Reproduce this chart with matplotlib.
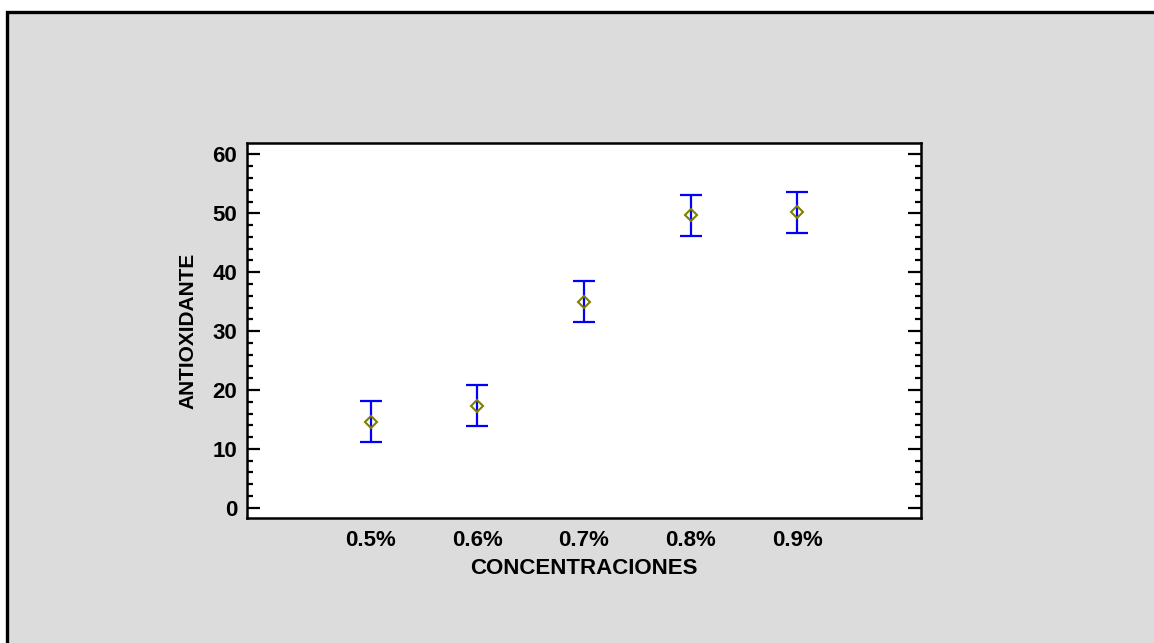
import matplotlib.pyplot as plt
from matplotlib.patches import Rectangle
from matplotlib.ticker import MultipleLocator

# means and interval half-widths per concentration
concentraciones = ['0.5%', '0.6%', '0.7%', '0.8%', '0.9%']
medias = [14.6, 17.3, 35.0, 49.7, 50.2]
semi_intervalo = [3.5, 3.5, 3.5, 3.5, 3.5]

plt.rcParams['font.family'] = 'Liberation Sans'
plt.rcParams['font.weight'] = 'bold'

fig = plt.figure(figsize=(11.54, 6.43), dpi=100, facecolor='white')

# gray panel behind the plot, running off the right and bottom edges
panel = Rectangle((7 / 1154, -0.05), 1.2, 1 - 12 / 643 + 0.05,
                  transform=fig.transFigure, facecolor='#dcdcdc',
                  edgecolor='black', linewidth=2.4, zorder=-10)
fig.add_artist(panel)

ax = fig.add_axes([247 / 1154, 1 - 518.3 / 643, 674 / 1154, 375 / 643])
ax.set_facecolor('white')

x = list(range(len(concentraciones)))
ax.errorbar(x, medias, yerr=semi_intervalo, fmt='none', ecolor='#0000ff',
            elinewidth=1.6, capsize=7.8, capthick=1.6, zorder=2)
ax.plot(x, medias, linestyle='none', marker='D', markersize=6.5,
        markerfacecolor='none', markeredgecolor='#808000',
        markeredgewidth=1.5, zorder=3)

ax.set_xlim(-1.164, 5.164)
ax.set_ylim(-1.8, 61.9)
ax.set_xticks(x)
ax.set_xticklabels(concentraciones)
ax.yaxis.set_major_locator(MultipleLocator(10))
ax.yaxis.set_minor_locator(MultipleLocator(2))

ax.tick_params(axis='x', length=0, pad=8.5, labelsize=16)
ax.tick_params(axis='y', which='major', direction='in', length=9.5,
               width=1.6, left=True, right=True, pad=7, labelsize=16)
ax.tick_params(axis='y', which='minor', direction='in', length=4.5,
               width=1.6, left=True, right=True)

for s in ax.spines.values():
    s.set_linewidth(1.8)

ax.set_xlabel('CONCENTRACIONES', fontsize=16, fontweight='bold', labelpad=5)
ax.set_ylabel('ANTIOXIDANTE', fontsize=15, fontweight='bold', labelpad=11)

fig.savefig('out.png', dpi=100)
